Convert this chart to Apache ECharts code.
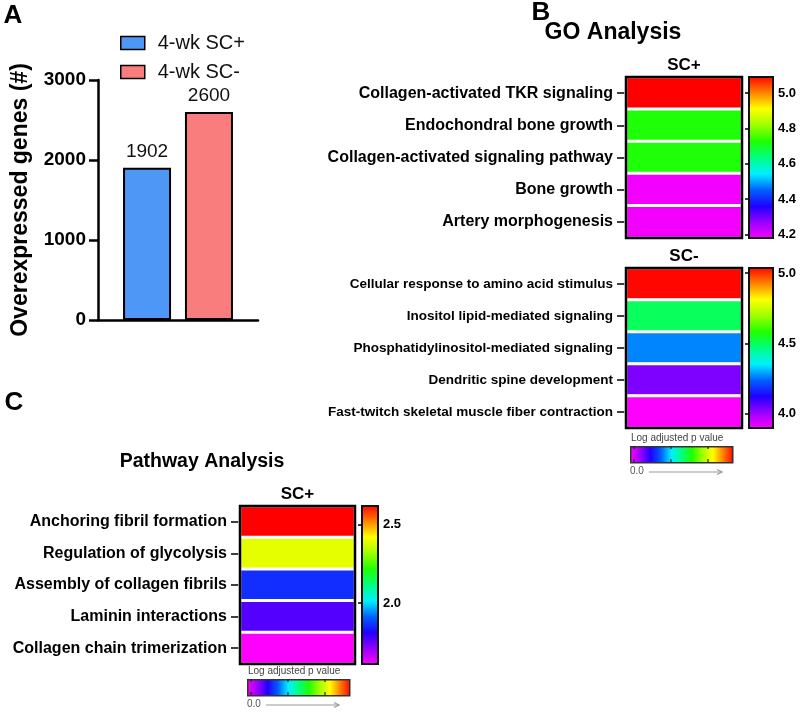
<!DOCTYPE html>
<html>
<head>
<meta charset="utf-8">
<script src="https://cdn.jsdelivr.net/npm/echarts@6/dist/echarts.min.js"></script>
<style>
html, body { margin: 0; padding: 0; background: #fff; }
#main { width: 800px; height: 712px; }
</style>
</head>
<body>
<div id="main"></div>
<script>
// panel A
var groups = ['4-wk SC+', '4-wk SC-'];
var geneCounts = [1902, 2600];
var barColors = ['#4f97f6', '#fa7d7d'];

// panel B, SC+
var goPlusTerms = ['Collagen-activated TKR signaling', 'Endochondral bone growth',
    'Collagen-activated signaling pathway', 'Bone growth', 'Artery morphogenesis'];
var goPlusValues = [5.09, 4.72, 4.72, 4.19, 4.19];
var goPlusRange = [4.18, 5.09];
var goPlusTicks = [4.2, 4.4, 4.6, 4.8, 5.0];

// panel B, SC-
var goMinusTerms = ['Cellular response to amino acid stimulus', 'Inositol lipid-mediated signaling',
    'Phosphatidylinositol-mediated signaling', 'Dendritic spine development',
    'Fast-twitch skeletal muscle fiber contraction'];
var goMinusValues = [5.03, 4.50, 4.27, 4.04, 3.90];
var goMinusRange = [3.90, 5.035];
var goMinusTicks = [4.0, 4.5, 5.0];

// panel C
var pathTerms = ['Anchoring fibril formation', 'Regulation of glycolysis',
    'Assembly of collagen fibrils', 'Laminin interactions', 'Collagen chain trimerization'];
var pathValues = [2.62, 2.39, 1.86, 1.77, 1.61];
var pathRange = [1.61, 2.62];
var pathTicks = [2.0, 2.5];

var rainbow = ['#ff00ff', '#9a00ff', '#2000ff', '#0060ff', '#00f0ff', '#00ff80',
    '#20ff00', '#a0ff00', '#ffff00', '#ff8000', '#ff0000'];

var FONT = '"Liberation Sans", Arial, sans-serif';

function gradient(vertical) {
    var stops = rainbow.map(function (c, i) {
        return { offset: i / (rainbow.length - 1), color: c };
    });
    return vertical
        ? { type: 'linear', x: 0, y: 1, x2: 0, y2: 0, colorStops: stops }
        : { type: 'linear', x: 0, y: 0, x2: 1, y2: 0, colorStops: stops };
}

function heatGrid(left, top, w, h) {
    return { left: left, top: top, width: w, height: h, show: true, z: 5,
        borderColor: '#000', borderWidth: 2.5, backgroundColor: 'transparent' };
}
function barGrid(left, top, w, h) {
    return { left: left, top: top, width: w, height: h, show: true,
        borderColor: '#111', borderWidth: 2, backgroundColor: gradient(true) };
}
function heatX(idx, name) {
    return { type: 'category', gridIndex: idx, data: [name], position: 'top',
        axisLine: { show: false }, axisTick: { show: false },
        axisLabel: { margin: 3, color: '#000', fontWeight: 'bold', fontSize: 17, fontFamily: FONT } };
}
function heatY(idx, terms, size) {
    return { type: 'category', gridIndex: idx, data: terms, inverse: true,
        axisLine: { show: false },
        axisTick: { show: true, alignWithLabel: true, length: 9, lineStyle: { color: '#000', width: 1.5 } },
        axisLabel: { margin: 13, color: '#000', fontWeight: 'bold', fontSize: size, fontFamily: FONT } };
}
function cbarX(idx) {
    return { type: 'value', gridIndex: idx, show: false };
}
function cbarY(idx, range, ticks) {
    return { type: 'value', gridIndex: idx, position: 'right', min: range[0], max: range[1],
        axisLine: { show: false }, splitLine: { show: false },
        axisTick: { show: true, inside: true, length: 4, customValues: ticks,
            lineStyle: { color: '#000', width: 1.5 } },
        axisLabel: { customValues: ticks, margin: 5, color: '#000', fontWeight: 'bold',
            fontSize: 13, fontFamily: FONT,
            formatter: function (v) { return v.toFixed(1); } } };
}
function cells(values) {
    return values.map(function (v, i) { return [0, i, v]; });
}
function heatSeries(idx, values) {
    return { type: 'heatmap', xAxisIndex: idx, yAxisIndex: idx, data: cells(values),
        itemStyle: { borderColor: '#fff', borderWidth: 3 }, emphasis: { disabled: true } };
}
function vmap(seriesIndex, range) {
    return { type: 'continuous', show: false, seriesIndex: seriesIndex, dimension: 2,
        min: range[0], max: range[1], inRange: { color: rainbow } };
}
function miniLegend(x, y) {
    var els = [
        { type: 'text', left: x + 1, top: y - 13,
            style: { text: 'Log adjusted p value', fill: '#444', font: '10px ' + FONT } },
        { type: 'rect', left: x, top: y, shape: { width: 102, height: 16 },
            style: { fill: gradient(false), stroke: '#333', lineWidth: 1.5 } },
        { type: 'text', left: x, top: y + 20,
            style: { text: '0.0', fill: '#555', font: '10px ' + FONT } },
        { type: 'line', shape: { x1: x + 19, y1: y + 26, x2: x + 92, y2: y + 26 },
            style: { stroke: '#999', lineWidth: 1.2 } },
        { type: 'polyline', shape: { points: [[x + 87, y + 23.5], [x + 92, y + 26], [x + 87, y + 28.5]] },
            style: { stroke: '#999', lineWidth: 1.2, fill: null } }
    ];
    [4, 41, 78].forEach(function (dx) {
        els.push({ type: 'line', shape: { x1: x + dx, y1: y, x2: x + dx, y2: y + 3 },
            style: { stroke: '#222', lineWidth: 1.2 } });
        els.push({ type: 'line', shape: { x1: x + dx, y1: y + 13, x2: x + dx, y2: y + 16 },
            style: { stroke: '#222', lineWidth: 1.2 } });
    });
    return els;
}
function label(text, x, y, size) {
    return { type: 'text', x: x, y: y,
        style: { text: text, fill: '#000', font: 'bold ' + size + 'px ' + FONT,
            textAlign: 'center', textVerticalAlign: 'middle' } };
}

var chart = echarts.init(document.getElementById('main'));

var option = {
    animation: false,
    backgroundColor: '#fff',
    textStyle: { fontFamily: FONT },
    legend: {
        orient: 'vertical', left: 115, top: 28, itemGap: 9,
        itemWidth: 24, itemHeight: 13, icon: 'rect',
        itemStyle: { borderColor: '#000', borderWidth: 1.5 },
        textStyle: { fontSize: 20, color: '#111', fontFamily: FONT, padding: [0, 0, 0, 8] },
        data: groups
    },
    grid: [
        { left: 98, top: 80, width: 160, height: 240 },
        heatGrid(626, 77, 116, 161),
        barGrid(749, 77, 24, 161),
        heatGrid(626, 268, 116, 160),
        barGrid(749, 268, 24, 160),
        heatGrid(240, 506, 115, 158),
        barGrid(362, 506, 16, 158)
    ],
    xAxis: [
        { type: 'category', gridIndex: 0, data: ['4-wk'],
            axisLine: { lineStyle: { color: '#000', width: 2.5 } },
            axisTick: { show: false }, axisLabel: { show: false } },
        heatX(1, 'SC+'), cbarX(2), heatX(3, 'SC-'), cbarX(4), heatX(5, 'SC+'), cbarX(6)
    ],
    yAxis: [
        { type: 'value', gridIndex: 0, min: 0, max: 3000, interval: 1000,
            name: 'Overexpressed genes (#)', nameLocation: 'middle', nameGap: 66,
            nameTextStyle: { fontSize: 23, fontWeight: 'bold', color: '#000', fontFamily: FONT },
            axisLine: { show: true, lineStyle: { color: '#000', width: 2.5 } },
            axisTick: { show: true, length: 9, lineStyle: { color: '#000', width: 2.5 } },
            axisLabel: { margin: 12, color: '#000', fontWeight: 'bold', fontSize: 19, fontFamily: FONT,
                formatter: function (v) { return String(v); } },
            splitLine: { show: false } },
        heatY(1, goPlusTerms, 16), cbarY(2, goPlusRange, goPlusTicks),
        heatY(3, goMinusTerms, 13.5), cbarY(4, goMinusRange, goMinusTicks),
        heatY(5, pathTerms, 16), cbarY(6, pathRange, pathTicks)
    ],
    visualMap: [vmap(2, goPlusRange), vmap(3, goMinusRange), vmap(4, pathRange)],
    series: [
        { name: groups[0], type: 'bar', xAxisIndex: 0, yAxisIndex: 0, data: [geneCounts[0]],
            barWidth: 48, barGap: '29%',
            itemStyle: { color: barColors[0], borderColor: '#000', borderWidth: 2 },
            label: { show: true, position: 'top', distance: 7, fontSize: 19, color: '#111', fontFamily: FONT } },
        { name: groups[1], type: 'bar', xAxisIndex: 0, yAxisIndex: 0, data: [geneCounts[1]],
            barWidth: 48,
            itemStyle: { color: barColors[1], borderColor: '#000', borderWidth: 2 },
            label: { show: true, position: 'top', distance: 7, fontSize: 19, color: '#111', fontFamily: FONT } },
        heatSeries(1, goPlusValues),
        heatSeries(3, goMinusValues),
        heatSeries(5, pathValues)
    ],
    graphic: [
        label('A', 13, 16, 26),
        label('B', 541, 13, 26),
        label('C', 14, 403, 26),
        label('GO Analysis', 613, 33, 23),
        label('Pathway Analysis', 202, 462, 19.5)
    ].concat(miniLegend(630, 446), miniLegend(247, 679))
};

chart.setOption(option);
</script>
</body>
</html>
